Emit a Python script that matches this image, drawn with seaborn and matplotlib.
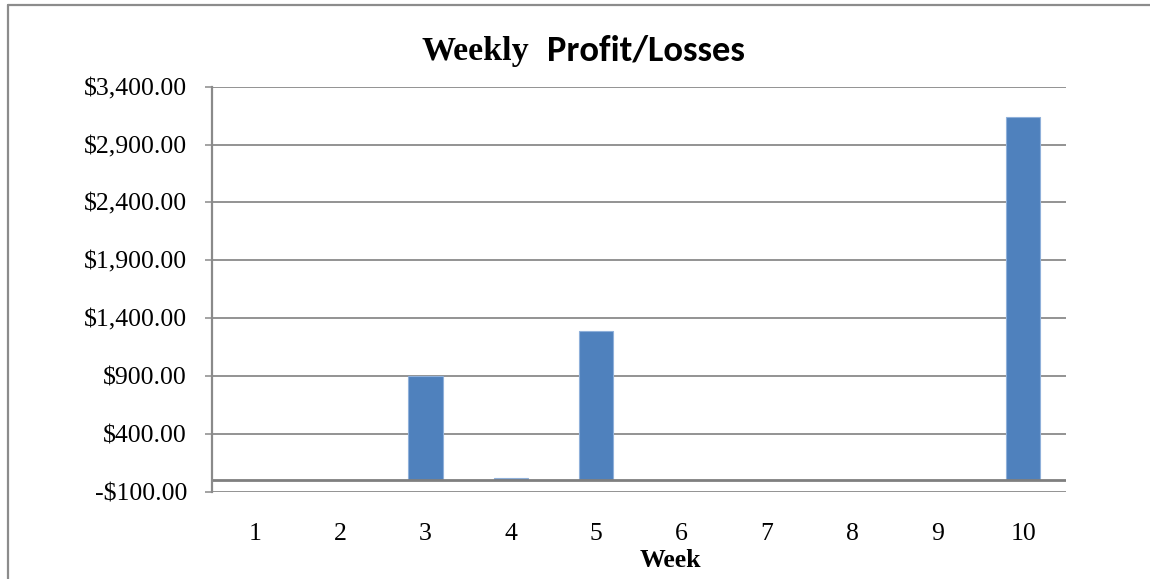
import matplotlib
matplotlib.use("Agg")
import matplotlib.pyplot as plt
from matplotlib.lines import Line2D
from matplotlib.ticker import FuncFormatter, FixedLocator
import seaborn as sns
import pandas as pd

# Weekly results
weeks = [1, 2, 3, 4, 5, 6, 7, 8, 9, 10]
profit = [0, 0, 897, 15, 1284, 0, 0, 0, 0, 3137]

y_ticks = [-100, 400, 900, 1400, 1900, 2400, 2900, 3400]

sns.set_theme(style="white")
plt.rcParams["font.family"] = ["Liberation Serif", "DejaVu Serif"]
plt.rcParams["text.color"] = "black"

W, H, DPI = 1150, 579, 100
fig = plt.figure(figsize=(W / DPI, H / DPI), dpi=DPI)
fig.patch.set_facecolor("white")

# plot area in pixel terms
left_px, right_px, top_px, bottom_px = 212, 1066, 86.7, 491.5
ax = fig.add_axes([left_px / W, 1 - bottom_px / H,
                   (right_px - left_px) / W, (bottom_px - top_px) / H])

df = pd.DataFrame({"Week": weeks, "Profit": profit})
sns.barplot(data=df, x="Week", y="Profit", ax=ax, color="#4F81BD",
            saturation=1, width=0.4, edgecolor="#8FB0DA", linewidth=0.8,
            zorder=3)

grid_col = "#8a8a8a"
ax.set_ylim(y_ticks[0], y_ticks[-1])
ax.yaxis.set_major_locator(FixedLocator(y_ticks))
ax.yaxis.grid(True, color=grid_col, linewidth=1.3, zorder=0)
ax.xaxis.grid(False)
ax.axhline(0, color="#7f7f7f", linewidth=2.0, zorder=4)


def money(v, _):
    s = "${:,.2f}".format(abs(v))
    return "-" + s if v < 0 else s


ax.yaxis.set_major_formatter(FuncFormatter(money))

for side in ("top", "right", "bottom"):
    ax.spines[side].set_visible(False)
ax.spines["left"].set_color(grid_col)
ax.spines["left"].set_linewidth(1.6)
ax.spines["left"].set_zorder(5)

ax.tick_params(axis="y", which="major", direction="out", length=5,
               width=1.1, color=grid_col, pad=13, labelsize=18.5,
               labelcolor="black", left=True)
ax.tick_params(axis="x", length=0, pad=22.5, labelsize=18.5,
               labelcolor="black")

ax.set_ylabel("")
ax.set_xlabel("Week", fontsize=18.5, fontweight="bold", color="black",
              va="top")
ax.xaxis.set_label_coords((670 - left_px) / (right_px - left_px),
                          (bottom_px - 549) / (bottom_px - top_px))

# title: serif word followed by a sans-serif part
base_y = 1 - 60 / H
t1 = fig.text(422 / W, base_y, "Weekly", fontsize=24.5, fontweight="bold",
              family=["Liberation Serif", "DejaVu Serif"], color="black",
              va="baseline", ha="left")
t2 = fig.text(547 / W, base_y, "Profit/Losses", fontsize=24.5,
              fontweight="bold", family=["Carlito", "Lato", "DejaVu Sans"],
              color="black", va="baseline", ha="left")
fig.canvas.draw()
r = fig.canvas.get_renderer()
w2 = t2.get_window_extent(r).width
target = 745 - 547
t2.set_fontsize(24.5 * target / w2)

# chart frame on the left and top edges
frame_col = "#8c8c8c"
fig.add_artist(Line2D([8 / W, 8 / W], [1 - 5 / H, 0], transform=fig.transFigure,
                      color=frame_col, linewidth=1.6))
fig.add_artist(Line2D([8 / W, 1], [1 - 5 / H, 1 - 5 / H],
                      transform=fig.transFigure, color=frame_col,
                      linewidth=1.6))

fig.savefig("out.png", dpi=DPI, facecolor="white")
